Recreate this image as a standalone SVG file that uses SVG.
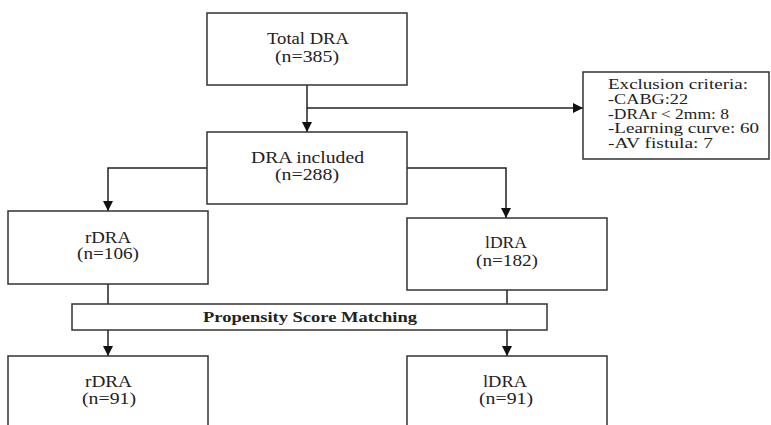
<svg xmlns="http://www.w3.org/2000/svg" width="771" height="425" viewBox="0 0 771 425">
  <style>
    .box { fill: #ffffff; stroke: #333333; stroke-width: 1.5; }
    .t { font-family: "Liberation Serif", "Times New Roman", serif; font-size: 16px; fill: #222222; text-anchor: middle; }
    .ex { font-family: "Liberation Serif", "Times New Roman", serif; font-size: 15px; fill: #222222; }
    .b { font-weight: bold; font-size: 15px; }
    .c { fill: none; stroke: #222222; stroke-width: 1.5; }
  </style>
  <defs>
    <marker id="arr" markerUnits="userSpaceOnUse" markerWidth="10" markerHeight="10" refX="10" refY="5" orient="auto" viewBox="0 0 10 10">
      <path d="M0,0 L10,5 L0,10 z" fill="#111111"/>
    </marker>
  </defs>
  <rect width="771" height="425" fill="#ffffff"/>

  <g id="connectors">
    <path class="c" d="M307,85 V132" marker-end="url(#arr)"/>
    <path class="c" d="M307,108 H583" marker-end="url(#arr)"/>
    <path class="c" d="M207,168 H108 V211" marker-end="url(#arr)"/>
    <path class="c" d="M407,168 H506 V218" marker-end="url(#arr)"/>
    <path class="c" d="M108,284 V304"/>
    <path class="c" d="M507,290 V304"/>
    <path class="c" d="M108,330 V356" marker-end="url(#arr)"/>
    <path class="c" d="M507,330 V356" marker-end="url(#arr)"/>
  </g>

  <g id="total">
    <rect class="box" x="207" y="13" width="200" height="72"/>
    <text class="t" x="308" y="44" textLength="82" lengthAdjust="spacingAndGlyphs">Total DRA</text>
    <text class="t" x="307" y="62" textLength="64" lengthAdjust="spacingAndGlyphs">(n=385)</text>
  </g>

  <g id="exclusion">
    <rect class="box" x="583" y="72" width="186" height="87"/>
    <text class="ex" x="608" y="89" textLength="140" lengthAdjust="spacingAndGlyphs">Exclusion criteria:</text>
    <text class="ex" x="608" y="104" textLength="80" lengthAdjust="spacingAndGlyphs">-CABG:22</text>
    <text class="ex" x="608" y="118.5" textLength="121" lengthAdjust="spacingAndGlyphs">-DRAr &lt; 2mm: 8</text>
    <text class="ex" x="608" y="133" textLength="151" lengthAdjust="spacingAndGlyphs">-Learning curve: 60</text>
    <text class="ex" x="608" y="148" textLength="105" lengthAdjust="spacingAndGlyphs">-AV fistula: 7</text>
  </g>

  <g id="included">
    <rect class="box" x="207" y="132" width="200" height="72"/>
    <text class="t" x="307.5" y="163" textLength="113" lengthAdjust="spacingAndGlyphs">DRA included</text>
    <text class="t" x="307" y="180" textLength="64" lengthAdjust="spacingAndGlyphs">(n=288)</text>
  </g>

  <g id="rdra">
    <rect class="box" x="8" y="211" width="200" height="73"/>
    <text class="t" x="108" y="243" textLength="46" lengthAdjust="spacingAndGlyphs">rDRA</text>
    <text class="t" x="108" y="259" textLength="62" lengthAdjust="spacingAndGlyphs">(n=106)</text>
  </g>

  <g id="ldra">
    <rect class="box" x="407" y="218" width="200" height="72"/>
    <text class="t" x="506" y="248" textLength="42" lengthAdjust="spacingAndGlyphs">lDRA</text>
    <text class="t" x="507" y="266" textLength="62" lengthAdjust="spacingAndGlyphs">(n=182)</text>
  </g>

  <g id="psm">
    <rect class="box" x="72" y="304" width="475" height="26"/>
    <text class="t b" x="310" y="322" textLength="214" lengthAdjust="spacingAndGlyphs">Propensity Score Matching</text>
  </g>

  <g id="rdra-matched">
    <rect class="box" x="8" y="356" width="200" height="76"/>
    <text class="t" x="108.5" y="387" textLength="47" lengthAdjust="spacingAndGlyphs">rDRA</text>
    <text class="t" x="109" y="404" textLength="54" lengthAdjust="spacingAndGlyphs">(n=91)</text>
  </g>

  <g id="ldra-matched">
    <rect class="box" x="407" y="356" width="200" height="76"/>
    <text class="t" x="505" y="387" textLength="44" lengthAdjust="spacingAndGlyphs">lDRA</text>
    <text class="t" x="506" y="404" textLength="54" lengthAdjust="spacingAndGlyphs">(n=91)</text>
  </g>
</svg>
